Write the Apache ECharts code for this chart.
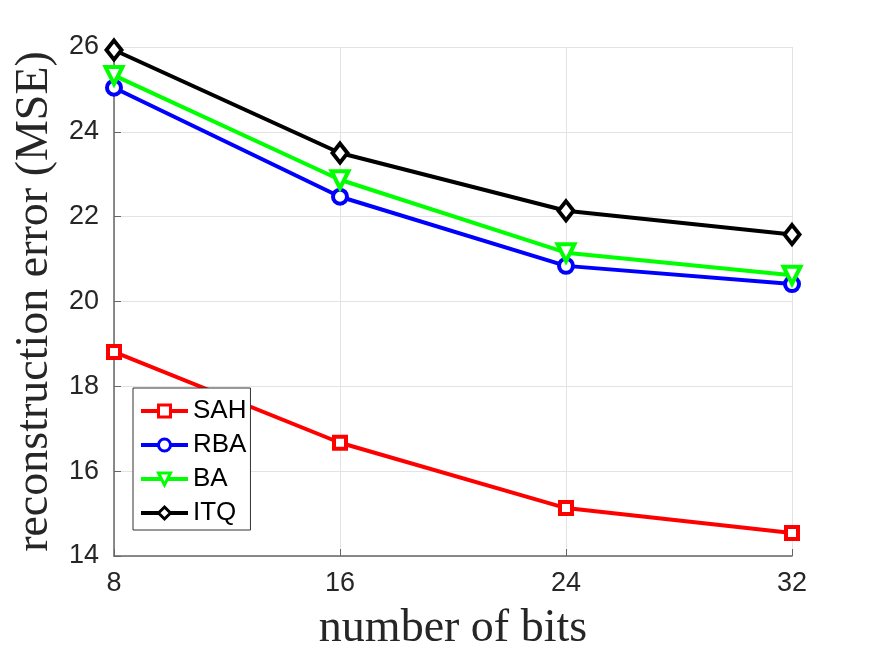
<!DOCTYPE html>
<html>
<head>
<meta charset="utf-8">
<script src="https://cdn.jsdelivr.net/npm/echarts@6/dist/echarts.min.js"></script>
<style>
	html, body { margin: 0; padding: 0; background: #fff; }
	#chart { width: 875px; height: 657px; }
</style>
</head>
<body>
<div id="chart"></div>
<script>
var bits = [8, 16, 24, 32];
var sah = [18.81, 16.67, 15.13, 14.54];
var rba = [25.04, 22.47, 20.84, 20.41];
var ba = [25.33, 22.87, 21.15, 20.62];
var itq = [25.93, 23.50, 22.14, 21.58];
var xTicks = [8, 16, 24, 32];
var yTicks = [14, 16, 18, 20, 22, 24, 26];

function pairs(values) {
	var out = [];
	for (var i = 0; i < bits.length; i++) {
		out.push([bits[i], values[i]]);
	}
	return out;
}

function makeSerie(name, values, color, symbol, size, rotate) {
	return {
		name: name,
		type: 'line',
		data: pairs(values),
		symbol: symbol,
		symbolSize: size,
		symbolRotate: rotate || 0,
		showAllSymbol: true,
		animation: false,
		lineStyle: { color: color, width: 4 },
		itemStyle: { color: '#fff', borderColor: color, borderWidth: 4 },
		emphasis: { disabled: true }
	};
}

var chart = echarts.init(document.getElementById('chart'));
var axisColor = '#666';
var labelStyle = { color: '#262626', fontSize: 27, fontFamily: 'Liberation Sans, Arial, sans-serif' };
var nameStyle = { color: '#262626', fontSize: 46, fontFamily: 'Liberation Serif, serif' };

chart.setOption({
	backgroundColor: '#fff',
	grid: { left: 114, right: 83, top: 47, bottom: 101 },
	xAxis: {
		type: 'value',
		min: 8, max: 32, interval: 8,
		name: 'number of bits',
		nameLocation: 'middle',
		nameGap: 50,
		nameTextStyle: nameStyle,
		axisLine: { lineStyle: { color: axisColor, width: 1.5 } },
		axisTick: { inside: true, length: 7, lineStyle: { color: axisColor } },
		axisLabel: Object.assign({ margin: 14 }, labelStyle),
		splitLine: { show: true, lineStyle: { color: '#e3e3e3', width: 1 } }
	},
	yAxis: {
		type: 'value',
		min: 14, max: 26, interval: 2,
		name: 'reconstruction error (MSE)',
		nameLocation: 'middle',
		nameGap: 56,
		nameTextStyle: nameStyle,
		axisLine: { show: true, lineStyle: { color: axisColor, width: 1.5 } },
		axisTick: { show: true, inside: true, length: 7, lineStyle: { color: axisColor } },
		axisLabel: Object.assign({ margin: 15 }, labelStyle),
		splitLine: { show: true, lineStyle: { color: '#e3e3e3', width: 1 } }
	},
	legend: {
		orient: 'vertical',
		left: 133,
		top: 388,
		itemWidth: 47,
		itemHeight: 15,
		itemGap: 8,
		padding: [10, 4, 4, 6],
		borderColor: '#333',
		borderWidth: 1,
		backgroundColor: '#fff',
		lineStyle: { width: 4 },
		itemStyle: { borderWidth: 3 },
		textStyle: { color: '#000', fontSize: 26, fontFamily: 'Liberation Sans, Arial, sans-serif' },
		data: ['SAH', 'RBA', 'BA', 'ITQ']
	},
	series: [
		makeSerie('SAH', sah, '#ff0000', 'rect', 12),
		makeSerie('RBA', rba, '#0000ff', 'circle', 14),
		makeSerie('BA', ba, '#00ff00', 'triangle', 17, 180),
		makeSerie('ITQ', itq, '#000000', 'diamond', [15, 19])
	]
});
</script>
</body>
</html>
